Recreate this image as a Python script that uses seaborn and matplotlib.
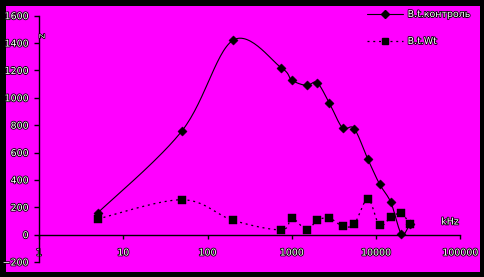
import numpy as np
import pandas as pd
import matplotlib
matplotlib.use("Agg")
import matplotlib.pyplot as plt
import matplotlib.patheffects as pe
from matplotlib.lines import Line2D
from matplotlib.patches import Rectangle
import seaborn as sns

# ---- data ----
freq_khz = [5, 50, 200, 750, 1000, 1500, 2000, 2800, 4000, 5500, 8000, 11000, 15000, 20000, 25000]
control = [160, 760, 1420, 1220, 1130, 1090, 1110, 960, 780, 775, 550, 370, 235, 5, 75]
wt = [115, 255, 105, 35, 120, 35, 105, 120, 63, 77, 260, 68, 128, 155, 77]
series_names = ["B.t.контроль", "B.t.Wt"]
x_ticks = [1, 10, 100, 1000, 10000, 100000]
x_tick_labels = ["1", "10", "100", "1000", "10000", "100000"]
y_ticks = [-200, 0, 200, 400, 600, 800, 1000, 1200, 1400, 1600]
x_unit = "kHz"

MAG = "#FF00FF"

sns.set_style("white")
plt.rcParams["font.family"] = ["DejaVu Sans"]


def smooth(xs, ys, n=30):
    """Catmull-Rom smoothing (as in spreadsheet 'smoothed line') in log-x space."""
    lx = np.log10(np.asarray(xs, float))
    y = np.asarray(ys, float)
    P = np.column_stack([lx, y])
    P = np.vstack([P[0], P, P[-1]])
    out = []
    for i in range(1, len(P) - 2):
        p0, p1, p2, p3 = P[i - 1], P[i], P[i + 1], P[i + 2]
        c1 = p1 + (p2 - p0) / 6.0
        c2 = p2 - (p3 - p1) / 6.0
        t = np.linspace(0, 1, n, endpoint=False)[:, None]
        b = ((1 - t) ** 3) * p1 + 3 * ((1 - t) ** 2) * t * c1 + 3 * (1 - t) * t ** 2 * c2 + t ** 3 * p2
        out.append(b)
    out.append(P[-2][None, :])
    out = np.vstack(out)
    return 10 ** out[:, 0], out[:, 1]


W, H = 485, 277
fig = plt.figure(figsize=(W / 100, H / 100), dpi=100)
fig.patch.set_facecolor("black")
fig.patches.append(Rectangle((6 / W, 5 / H), 474 / W, 266 / H, transform=fig.transFigure,
                             facecolor=MAG, edgecolor="none", zorder=-10))

ax = fig.add_axes([39 / W, (H - 262) / H, (460.3 - 39) / W, (262 - 15.7) / H])
ax.set_facecolor("none")

sx, sy = smooth(freq_khz, control)
wx, wy = smooth(freq_khz, wt)
sdf = pd.DataFrame({"f": sx, "v": sy})
wdf = pd.DataFrame({"f": wx, "v": wy})
sns.lineplot(data=sdf, x="f", y="v", sort=False, ax=ax, color="black", linewidth=0.8,
             estimator=None)
sns.lineplot(data=wdf, x="f", y="v", sort=False, ax=ax, color="black", linewidth=0.9,
             estimator=None, dashes=False)
ax.lines[-1].set_linestyle((0, (1.6, 3.0)))

pts_c = pd.DataFrame({"f": freq_khz, "v": control})
pts_w = pd.DataFrame({"f": freq_khz, "v": wt})
sns.scatterplot(data=pts_c, x="f", y="v", ax=ax, marker="D", s=22, color="black",
                edgecolor="black", linewidth=0.3, zorder=4)
sns.scatterplot(data=pts_w, x="f", y="v", ax=ax, marker="s", s=30, color="black",
                edgecolor="black", linewidth=0.3, zorder=5)

ax.set_xscale("log")
ax.set_xlim(1, 100000)
ax.set_ylim(-200, 1600)
ax.set_xlabel("")
ax.set_ylabel("")

for s in ["top", "right"]:
    ax.spines[s].set_visible(False)
ax.spines["left"].set_color("black")
ax.spines["left"].set_linewidth(1.0)
ax.spines["bottom"].set_color("black")
ax.spines["bottom"].set_linewidth(1.0)
ax.spines["bottom"].set_position(("data", 0))

stroke = [pe.withStroke(linewidth=1.2, foreground="black")]
ax.set_xticks(x_ticks)
ax.set_xticklabels(x_tick_labels)
ax.xaxis.set_minor_locator(matplotlib.ticker.NullLocator())
ax.set_yticks(y_ticks)
ax.tick_params(axis="x", direction="out", length=3, width=1, color="black", pad=7,
               labelsize=6.8, labelcolor="white", bottom=True)
ax.tick_params(axis="y", direction="out", length=3.5, width=1, color="black", pad=4,
               labelsize=6.8, labelcolor="white", left=True)
for lab in ax.get_xticklabels() + ax.get_yticklabels():
    lab.set_path_effects(stroke)

ax.text(450 / W, (H - 222) / H, x_unit, transform=fig.transFigure, ha="center", va="center",
        fontsize=6.8, color="white", path_effects=stroke)
ax.text(42.5 / W, (H - 36) / H, "Z", transform=fig.transFigure, ha="center", va="center",
        fontsize=5, color="white", rotation=90, path_effects=stroke)

handles = [
    Line2D([], [], color="black", linewidth=0.8, marker="D", markersize=4.5),
    Line2D([], [], color="black", linewidth=0.9, linestyle=(0, (1.6, 3.0)), marker="s",
           markersize=5),
]
leg = ax.legend(handles, series_names, loc="upper left", bbox_to_anchor=(367 / W, 1 - 10 / H),
                bbox_transform=fig.transFigure, frameon=False, fontsize=6.8,
                handlelength=3.8, handletextpad=0.5, labelspacing=1.9, borderpad=0,
                borderaxespad=0)
for t in leg.get_texts():
    t.set_color("white")
    t.set_path_effects(stroke)

fig.savefig("out.png", dpi=100, facecolor=fig.get_facecolor())
